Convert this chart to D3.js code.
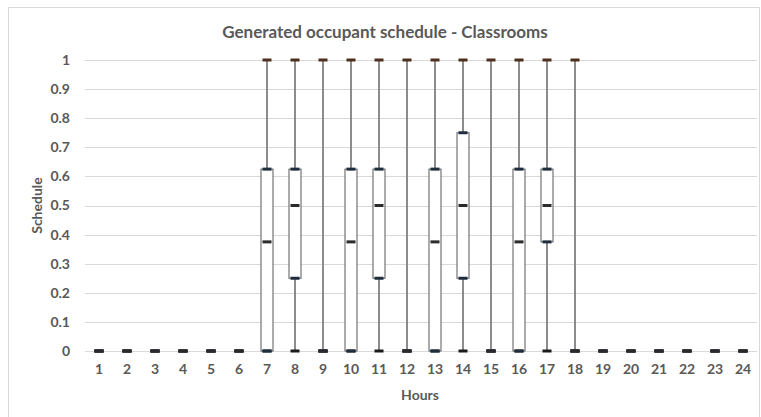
<!DOCTYPE html>
<html lang="en">
<head>
    <meta charset="UTF-8">
    <title>Generated occupant schedule - Classrooms</title>
    <script src="https://d3js.org/d3.v7.min.js"></script>
    <style>
        body { margin: 0; background: #fff; }
        text { font-family: Lato, "Open Sans", sans-serif; font-weight: bold; fill: #595959; }
    </style>
</head>
<body>
    <div id="chart"></div>
    <script>
        // Box plot statistics, one value per hour
        const hours = d3.range(1, 25).map(String);
        const minVals = [0,0,0,0,0,0, 0,0,0,0,0,0, 0,0,0,0,0,0, 0,0,0,0,0,0];
        const q1Vals  = [0,0,0,0,0,0, 0,0.25,0,0,0.25,0, 0,0.25,0,0,0.375,0, 0,0,0,0,0,0];
        const medVals = [0,0,0,0,0,0, 0.375,0.5,0,0.375,0.5,0, 0.375,0.5,0,0.375,0.5,0, 0,0,0,0,0,0];
        const q3Vals  = [0,0,0,0,0,0, 0.625,0.625,0,0.625,0.625,0, 0.625,0.75,0,0.625,0.625,0, 0,0,0,0,0,0];
        const maxVals = [0,0,0,0,0,0, 1,1,1,1,1,1, 1,1,1,1,1,1, 0,0,0,0,0,0];
        const yTicks = [0, 0.1, 0.2, 0.3, 0.4, 0.5, 0.6, 0.7, 0.8, 0.9, 1];

        const W = 761, H = 417;
        const margin = {top: 60, right: 4, bottom: 66, left: 85};
        const width = W - margin.left - margin.right;
        const height = H - margin.top - margin.bottom;

        const svg = d3.select("#chart").append("svg")
            .attr("width", W).attr("height", H);

        // chart frame
        svg.append("rect")
            .attr("x", 8.5).attr("y", 7.5)
            .attr("width", 751).attr("height", 420)
            .attr("fill", "none").attr("stroke", "#d9d9d9");

        const g = svg.append("g")
            .attr("transform", `translate(${margin.left},${margin.top})`);

        const x = d3.scaleBand().domain(hours).range([0, width]);
        const y = d3.scaleLinear().domain([0, 1]).range([height, 0]);

        // gridlines
        g.append("g")
            .selectAll("line").data(yTicks).join("line")
            .attr("x1", 0).attr("x2", width)
            .attr("y1", d => Math.round(y(d)) + 0.5).attr("y2", d => Math.round(y(d)) + 0.5)
            .attr("stroke", "#d9d9d9").attr("stroke-width", 1);

        // y axis
        const yAxis = g.append("g")
            .call(d3.axisLeft(y).tickValues(yTicks).tickFormat(d3.format("")).tickSize(0).tickPadding(15));
        yAxis.select(".domain").remove();
        yAxis.selectAll("text").attr("font-size", 14);

        // x axis
        const xAxis = g.append("g")
            .attr("transform", `translate(0,${height})`)
            .call(d3.axisBottom(x).tickSize(0).tickPadding(13));
        xAxis.select(".domain").remove();
        xAxis.selectAll("text").attr("font-size", 14);

        const rows = hours.map((h, i) => ({
            h, min: minVals[i], q1: q1Vals[i], med: medVals[i], q3: q3Vals[i], max: maxVals[i]
        }));

        const cx = d => x(d.h) + x.bandwidth() / 2;
        const boxW = 12, mkW = 9, mkH = 3;

        // whiskers
        g.append("g").selectAll("line").data(rows.filter(d => d.max > d.min)).join("line")
            .attr("x1", cx).attr("x2", cx)
            .attr("y1", d => y(d.min)).attr("y2", d => y(d.max))
            .attr("stroke", "#8c8c8c").attr("stroke-width", 2);

        // boxes
        g.append("g").selectAll("rect").data(rows.filter(d => d.q3 > d.q1)).join("rect")
            .attr("x", d => cx(d) - boxW / 2)
            .attr("y", d => y(d.q3))
            .attr("width", boxW)
            .attr("height", d => y(d.q1) - y(d.q3))
            .attr("fill", "#fff").attr("stroke", "#595959").attr("stroke-width", 1);

        function markers(key, color, w) {
            g.append("g").selectAll("rect").data(rows).join("rect")
                .attr("x", d => cx(d) - w / 2)
                .attr("y", d => y(d[key]) - mkH / 2)
                .attr("width", w).attr("height", mkH)
                .attr("fill", color);
        }
        markers("min", "#1a1a1a", mkW);
        markers("q1", "#1f2e3f", mkW);
        markers("q3", "#1f2e3f", mkW);
        markers("med", "#2b2b2b", mkW);
        g.append("g").selectAll("rect").data(rows.filter(d => d.max > d.min)).join("rect")
            .attr("x", d => cx(d) - mkW / 2)
            .attr("y", d => y(d.max) - mkH / 2)
            .attr("width", mkW).attr("height", mkH)
            .attr("fill", "#4e2f1e");

        // titles
        svg.append("text")
            .attr("x", 385).attr("y", 38)
            .attr("text-anchor", "middle").attr("font-size", 17)
            .text("Generated occupant schedule - Classrooms");

        svg.append("text")
            .attr("x", margin.left + width / 2 - 1).attr("y", 400)
            .attr("text-anchor", "middle").attr("font-size", 14)
            .text("Hours");

        svg.append("text")
            .attr("transform", `translate(42,${margin.top + height / 2}) rotate(-90)`)
            .attr("text-anchor", "middle").attr("font-size", 14)
            .text("Schedule");
    </script>
</body>
</html>
